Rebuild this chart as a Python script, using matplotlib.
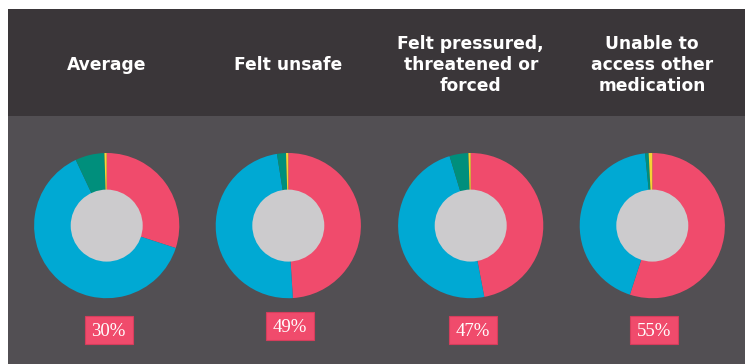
import numpy as np
import matplotlib
matplotlib.use('Agg')
from matplotlib import pyplot as plt
from matplotlib.patches import Rectangle, Circle

# data, clockwise from 12 o'clock: pink, blue, teal, yellow
titles = ['Average', 'Felt unsafe', 'Felt pressured,\nthreatened or\nforced',
          'Unable to\naccess other\nmedication']
pink = [30, 49, 47, 55]
blue = [63.0, 48.5, 48.3, 43.4]
teal = [6.5, 2.0, 4.2, 0.8]
yellow = [0.5, 0.5, 0.5, 0.8]
labels = ['30%', '49%', '47%', '55%']

W, H = 745, 364
colors = ['#f04b6c', '#00a9d3', '#008f7c', '#f6d334']

fig = plt.figure(figsize=(W / 100, H / 100), dpi=100)
fig.patch.set_facecolor('white')

def px_rect(x, y, w, h, **kw):
    # pixel box, y measured from the top
    r = Rectangle((x / W, 1 - (y + h) / H), w / W, h / H,
                  transform=fig.transFigure, **kw)
    fig.add_artist(r)
    return r

# backgrounds
px_rect(8, 9, W - 8, 107, facecolor='#3a3639', edgecolor='none', zorder=0)
px_rect(8, 116, W - 8, H - 116, facecolor='#524f53', edgecolor='none', zorder=0)

centers = [106.7, 288.3, 470.7, 652.3]
cy = 225.6
r_out = 72.6
r_in = 36.0
title_y = 65
box_y = [316, 312, 316, 316]

for i in range(4):
    cx = centers[i]
    ax = fig.add_axes([(cx - r_out) / W, 1 - (cy + r_out) / H,
                       2 * r_out / W, 2 * r_out / H])
    vals = [pink[i], blue[i], teal[i], yellow[i]]
    ax.pie(vals, colors=colors, startangle=90, counterclock=False, radius=1,
           wedgeprops={'linewidth': 0})
    ax.add_patch(Circle((0, 0), r_in / r_out, facecolor='#cccbcd',
                        edgecolor='none', zorder=5))
    ax.set_xlim(-1, 1)
    ax.set_ylim(-1, 1)
    ax.axis('off')

    fig.text(cx / W, 1 - title_y / H, titles[i], color='white',
             fontsize=12.3, fontweight='bold', ha='center', va='center',
             linespacing=1.2, family='DejaVu Sans')

    bw, bh = 48, 28
    px_rect(cx - bw / 2 + 2, box_y[i], bw, bh, facecolor='#f04b6c',
            edgecolor='#d63d5c', linewidth=0.8, zorder=3)
    fig.text((cx + 2) / W, 1 - (box_y[i] + bh / 2 + 1) / H, labels[i],
             color='white', fontsize=13.5, ha='center', va='center',
             family='Liberation Serif', zorder=4)

fig.savefig('out.png', dpi=100)
